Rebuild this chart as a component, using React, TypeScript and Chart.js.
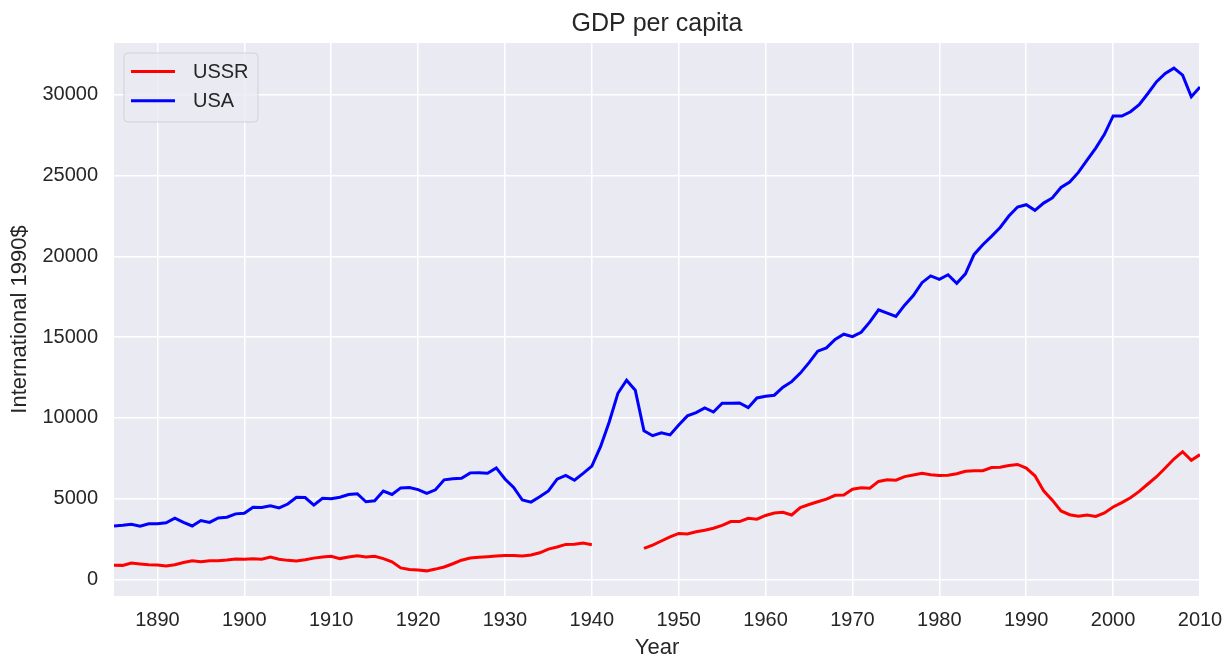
import React, { useEffect, useRef } from "react";
import { Chart, registerables } from "chart.js";

Chart.register(...registerables);

const years = [
  1885, 1886, 1887, 1888, 1889, 1890, 1891, 1892, 1893, 1894,
  1895, 1896, 1897, 1898, 1899, 1900, 1901, 1902, 1903, 1904,
  1905, 1906, 1907, 1908, 1909, 1910, 1911, 1912, 1913, 1914,
  1915, 1916, 1917, 1918, 1919, 1920, 1921, 1922, 1923, 1924,
  1925, 1926, 1927, 1928, 1929, 1930, 1931, 1932, 1933, 1934,
  1935, 1936, 1937, 1938, 1939, 1940, 1941, 1942, 1943, 1944,
  1945, 1946, 1947, 1948, 1949, 1950, 1951, 1952, 1953, 1954,
  1955, 1956, 1957, 1958, 1959, 1960, 1961, 1962, 1963, 1964,
  1965, 1966, 1967, 1968, 1969, 1970, 1971, 1972, 1973, 1974,
  1975, 1976, 1977, 1978, 1979, 1980, 1981, 1982, 1983, 1984,
  1985, 1986, 1987, 1988, 1989, 1990, 1991, 1992, 1993, 1994,
  1995, 1996, 1997, 1998, 1999, 2000, 2001, 2002, 2003, 2004,
  2005, 2006, 2007, 2008, 2009, 2010,
];

const ussr: (number | null)[] = [
  870, 860, 1000, 950, 900, 880, 820, 900, 1040, 1150,
  1080, 1150, 1150, 1190, 1250, 1240, 1270, 1240, 1370, 1240,
  1170, 1130, 1210, 1310, 1380, 1420, 1280, 1380, 1450, 1380,
  1420, 1280, 1080, 700, 600, 580, 520, 630, 760, 960,
  1180, 1320, 1370, 1400, 1440, 1470, 1470, 1440, 1500, 1640,
  1870, 2000, 2160, 2170, 2240, 2140, null, null, null, null,
  null, 1910, 2120, 2370, 2620, 2840, 2810, 2940, 3040, 3160,
  3340, 3570, 3570, 3780, 3720, 3950, 4100, 4150, 3980, 4440,
  4630, 4800, 4960, 5200, 5220, 5580, 5670, 5640, 6060, 6160,
  6140, 6360, 6460, 6560, 6470, 6430, 6440, 6540, 6690, 6720,
  6720, 6920, 6940, 7040, 7110, 6890, 6410, 5480, 4900, 4230,
  4000, 3910, 3980, 3890, 4110, 4480, 4750, 5050, 5440, 5900,
  6350, 6890, 7450, 7900, 7370, 7720,
];

const usa: number[] = [
  3300, 3340, 3400, 3290, 3440, 3440, 3500, 3780, 3520, 3300,
  3640, 3520, 3800, 3840, 4050, 4090, 4460, 4440, 4550, 4420,
  4660, 5080, 5060, 4590, 5020, 4990, 5080, 5250, 5300, 4800,
  4860, 5460, 5250, 5660, 5680, 5550, 5320, 5540, 6160, 6220,
  6260, 6590, 6600, 6570, 6900, 6210, 5690, 4910, 4780, 5110,
  5470, 6200, 6430, 6130, 6560, 7010, 8210, 9740, 11520, 12330,
  11710, 9200, 8890, 9070, 8940, 9560, 10120, 10320, 10610, 10360,
  10900, 10910, 10920, 10630, 11230, 11330, 11400, 11900, 12240, 12770,
  13420, 14130, 14330, 14860, 15180, 15030, 15300, 15940, 16690, 16490,
  16280, 16980, 17570, 18370, 18790, 18580, 18860, 18330, 18920, 20120,
  20720, 21240, 21790, 22500, 23060, 23200, 22850, 23300, 23620, 24270,
  24600, 25200, 25960, 26710, 27560, 28700, 28690, 28960, 29400, 30090,
  30820, 31330, 31660, 31230, 29890, 30490,
];

const seriesNames = ["USSR", "USA"];
const chartTitle = "GDP per capita";
const xTicks = [1890, 1900, 1910, 1920, 1930, 1940, 1950, 1960, 1970, 1980, 1990, 2000, 2010];
const yTicks = [0, 5000, 10000, 15000, 20000, 25000, 30000];

const FONT = "'Liberation Sans', Arial, sans-serif";
const TEXT = "#262626";
const BG = "#EAEAF2";

const allVals = [...ussr, ...usa].filter((v): v is number => v !== null);
const dMin = Math.min(...allVals);
const dMax = Math.max(...allVals);
const yMargin = (dMax - dMin) * 0.05;

const bgPlugin = {
  id: "axesBg",
  beforeDraw(chart: any) {
    const { ctx, chartArea } = chart;
    ctx.save();
    ctx.fillStyle = BG;
    ctx.fillRect(chartArea.left, chartArea.top, chartArea.right - chartArea.left, chartArea.bottom - chartArea.top);
    ctx.restore();
  },
};

const titlePlugin = {
  id: "axesTitle",
  afterDraw(chart: any) {
    const { ctx, chartArea } = chart;
    ctx.save();
    ctx.fillStyle = TEXT;
    ctx.font = `25px ${FONT}`;
    ctx.textAlign = "center";
    ctx.textBaseline = "alphabetic";
    ctx.fillText(chartTitle, (chartArea.left + chartArea.right) / 2, 30.5);
    ctx.restore();
  },
};

const legendPlugin = {
  id: "innerLegend",
  afterDraw(chart: any) {
    const { ctx, chartArea } = chart;
    const x = chartArea.left + 10;
    const y = chartArea.top + 10;
    const w = 134;
    const h = 69;
    const r = 4;
    ctx.save();
    ctx.beginPath();
    ctx.moveTo(x + r, y);
    ctx.arcTo(x + w, y, x + w, y + h, r);
    ctx.arcTo(x + w, y + h, x, y + h, r);
    ctx.arcTo(x, y + h, x, y, r);
    ctx.arcTo(x, y, x + w, y, r);
    ctx.closePath();
    ctx.fillStyle = "rgba(234,234,242,0.8)";
    ctx.fill();
    ctx.strokeStyle = "rgba(204,204,204,0.8)";
    ctx.lineWidth = 1;
    ctx.stroke();
    chart.data.datasets.forEach((ds: any, i: number) => {
      const ly = y + 18.5 + i * 29.3;
      ctx.beginPath();
      ctx.strokeStyle = ds.borderColor;
      ctx.lineWidth = 3;
      ctx.moveTo(x + 7, ly);
      ctx.lineTo(x + 51, ly);
      ctx.stroke();
      ctx.fillStyle = TEXT;
      ctx.font = `20px ${FONT}`;
      ctx.textBaseline = "middle";
      ctx.textAlign = "left";
      ctx.fillText(ds.label, x + 69, ly + 1);
    });
    ctx.restore();
  },
};

export default function App() {
  const ref = useRef<HTMLCanvasElement>(null);
  useEffect(() => {
    if (!ref.current) return;
    const chart = new Chart(ref.current, {
      type: "line",
      data: {
        datasets: [
          {
            label: seriesNames[0],
            data: years.map((yr, i) => ({ x: yr, y: ussr[i] })) as any,
            borderColor: "#ff0000",
            backgroundColor: "#ff0000",
            borderWidth: 3,
            pointRadius: 0,
            tension: 0,
            spanGaps: false,
          },
          {
            label: seriesNames[1],
            data: years.map((yr, i) => ({ x: yr, y: usa[i] })) as any,
            borderColor: "#0000ff",
            backgroundColor: "#0000ff",
            borderWidth: 3,
            pointRadius: 0,
            tension: 0,
            spanGaps: false,
          },
        ],
      },
      options: {
        animation: false,
        responsive: false,
        maintainAspectRatio: false,
        layout: { padding: { left: 0, right: 31, top: 43, bottom: 0 } },
        plugins: {
          legend: { display: false },
          tooltip: { enabled: false },
          title: { display: false },
        },
        scales: {
          x: {
            type: "linear",
            min: years[0],
            max: years[years.length - 1],
            afterBuildTicks: (scale: any) => {
              scale.ticks = xTicks.map((v) => ({ value: v }));
            },
            afterFit: (scale: any) => {
              scale.height = 63;
              scale.paddingLeft = 0;
              scale.paddingRight = 0;
            },
            grid: { color: "#ffffff", lineWidth: 1.5, drawTicks: false },
            border: { display: false },
            ticks: {
              color: TEXT,
              font: { family: FONT, size: 20 },
              padding: 12,
              maxRotation: 0,
              autoSkip: false,
              callback: (v: any) => String(v),
            },
            title: {
              display: true,
              text: "Year",
              color: TEXT,
              font: { family: FONT, size: 22, lineHeight: 1 },
              padding: { top: 0, bottom: 0 },
            },
          },
          y: {
            type: "linear",
            min: dMin - yMargin,
            max: dMax + yMargin,
            afterBuildTicks: (scale: any) => {
              scale.ticks = yTicks.map((v) => ({ value: v }));
            },
            afterFit: (scale: any) => {
              scale.width = 114;
              scale.paddingTop = 0;
              scale.paddingBottom = 0;
            },
            grid: { color: "#ffffff", lineWidth: 1.5, drawTicks: false },
            border: { display: false },
            ticks: {
              color: TEXT,
              font: { family: FONT, size: 20 },
              padding: 16,
              autoSkip: false,
              callback: (v: any) => String(v),
            },
            title: {
              display: true,
              text: "International 1990$",
              color: TEXT,
              font: { family: FONT, size: 22, lineHeight: 1 },
              padding: { top: 9, bottom: 0 },
            },
          },
        },
      },
      plugins: [bgPlugin, titlePlugin, legendPlugin],
    });
    return () => chart.destroy();
  }, []);

  return (
    <div style={{ position: "absolute", left: 0, top: 0, width: 1231, height: 659 }}>
      <canvas ref={ref} width={1231} height={659} style={{ display: "block" }} />
    </div>
  );
}
